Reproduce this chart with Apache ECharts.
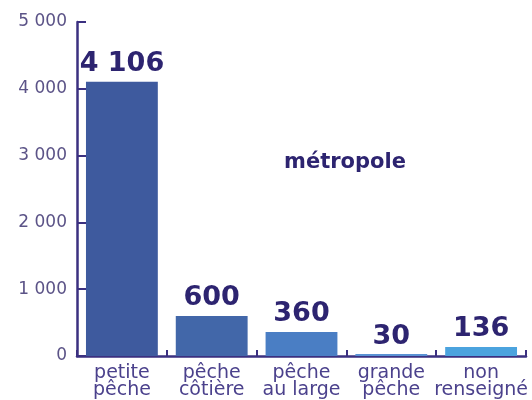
<!DOCTYPE html>
<html>
<head>
<meta charset="utf-8">
<script src="https://cdn.jsdelivr.net/npm/echarts@6/dist/echarts.min.js"></script>
<style>html,body{margin:0;padding:0;background:#fff}#c{width:532px;height:400px}</style>
</head>
<body>
<div id="c"></div>
<script>
const categories = ['petite\npêche', 'pêche\ncôtière', 'pêche\nau large', 'grande\npêche', 'non\nrenseigné'];
const values = [4106, 600, 360, 30, 136];
const yTicks = [0, 1000, 2000, 3000, 4000, 5000];
const panelTitle = 'métropole';
const barColors = ['#3e5a9e', '#4267a9', '#4a7ec4', '#5a92d4', '#4ba3de'];

const fmt = v => String(v).replace(/\B(?=(\d{3})+(?!\d))/g, ' ');
const axisColor = '#3b3080';

const chart = echarts.init(document.getElementById('c'), null, {renderer: 'canvas'});
chart.setOption({
  backgroundColor: '#ffffff',
  animation: false,
  grid: {left: 77, right: 6, top: 22, bottom: 43, containLabel: false},
  xAxis: {
    type: 'category',
    data: categories,
    boundaryGap: true,
    axisLine: {show: true, lineStyle: {color: axisColor, width: 2.5}},
    axisTick: {show: true, inside: true, length: 6, alignWithLabel: false, lineStyle: {color: axisColor, width: 2}},
    axisLabel: {
      interval: 0, margin: 9, color: '#4b418c',
      fontFamily: 'DejaVu Sans', fontSize: 19, lineHeight: 17
    },
    splitLine: {show: false}
  },
  yAxis: {
    type: 'value',
    min: yTicks[0], max: yTicks[yTicks.length - 1], interval: 1000,
    axisLine: {show: true, lineStyle: {color: axisColor, width: 2.5}},
    axisTick: {show: true, inside: true, length: 9, lineStyle: {color: axisColor, width: 2}},
    axisLabel: {
      margin: 10, color: '#5b5387', fontFamily: 'DejaVu Sans', fontSize: 17,
      formatter: v => fmt(v)
    },
    splitLine: {show: false}
  },
  series: [{
    type: 'bar',
    barCategoryGap: '20%',
    data: values.map((v, i) => ({value: v, itemStyle: {color: barColors[i]}})),
    label: {
      show: true, position: 'top', distance: 4,
      color: '#2d2470', fontFamily: 'DejaVu Sans', fontWeight: 'bold', fontSize: 27,
      formatter: p => fmt(p.value)
    }
  }],
  graphic: [{
    type: 'text', x: 345, y: 163,
    style: {
      text: panelTitle, fill: '#2d2470', font: 'bold 21px "DejaVu Sans"',
      textAlign: 'center', textVerticalAlign: 'middle'
    }
  }]
});
</script>
</body>
</html>
